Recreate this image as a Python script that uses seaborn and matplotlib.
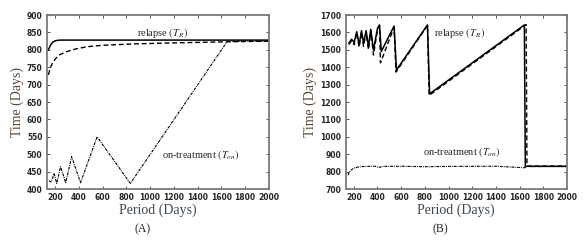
"""Relapse vs on-treatment times as a function of dosing period, panels (A) and (B)."""
import matplotlib
matplotlib.use("Agg")
import matplotlib.pyplot as plt
import seaborn as sns

# ---- panel A data ----
a_relapse_x = [145, 160, 175, 190, 205, 225, 250, 300, 400, 600, 1000, 1600, 2000]
a_relapse_y = [800, 812, 820, 824, 826, 827.5, 828, 828, 828, 828, 828, 828, 828]

a_relapse_alt_x = [145, 160, 180, 205, 240, 300, 380, 470, 600, 860, 1200, 1650, 2000]
a_relapse_alt_y = [728, 748, 763, 775, 786, 795, 803, 809, 813, 817, 820, 823, 825]

a_ontreat_x = [150, 165, 180, 192, 214, 247, 290, 340, 415, 554, 834, 1651, 2000]
a_ontreat_y = [424, 420, 432, 445, 416, 464, 418, 493, 418, 550, 416, 825, 825]

# ---- panel B data ----
b_relapse_x = [158, 181, 203, 225, 245, 265, 282, 304, 324, 343, 366, 400, 417, 432,
               540, 560, 822, 840, 1640, 1648, 2000]
b_relapse_y = [1538, 1561, 1543, 1604, 1528, 1610, 1538, 1610, 1518, 1618, 1499, 1624,
               1643, 1490, 1637, 1384, 1643, 1247, 1643, 830, 830]

b_relapse_alt_x = [158, 181, 203, 225, 245, 265, 282, 304, 324, 343, 366, 400, 417, 425,
                   540, 556, 822, 836, 1655, 1662, 2000]
b_relapse_alt_y = [1530, 1552, 1530, 1598, 1515, 1602, 1520, 1600, 1500, 1610, 1470, 1615,
                   1640, 1425, 1630, 1372, 1640, 1238, 1645, 832, 832]

b_ontreat_x = [150, 170, 200, 250, 300, 380, 410, 450, 600, 800, 1000, 1400, 1640, 1660, 2000]
b_ontreat_y = [780, 805, 820, 828, 830, 831, 824, 830, 831, 828, 830, 831, 822, 830, 830]

sns.set_style("ticks")
plt.rcParams["mathtext.fontset"] = "stix"
plt.rcParams["font.family"] = ["DejaVu Sans"]

serif = "Liberation Serif"
frame_col = "#7a7a7a"
fig = plt.figure(figsize=(5.88, 2.44), dpi=100)
ax_a = fig.add_axes([0.0794, 0.2254, 0.378, 0.713])
ax_b = fig.add_axes([0.5876, 0.2254, 0.3767, 0.713])


def draw(ax, rx, ry, dx, dy, ox, oy):
    sns.lineplot(x=rx, y=ry, ax=ax, color="black", linewidth=1.1, sort=False)
    sns.lineplot(x=dx, y=dy, ax=ax, color="black", linewidth=1.0, sort=False,
                 linestyle=(0, (3.5, 2)))
    sns.lineplot(x=ox, y=oy, ax=ax, color="black", linewidth=0.8, sort=False,
                 linestyle=(0, (2.6, 0.9, 0.8, 0.9)))


draw(ax_a, a_relapse_x, a_relapse_y, a_relapse_alt_x, a_relapse_alt_y, a_ontreat_x, a_ontreat_y)
draw(ax_b, b_relapse_x, b_relapse_y, b_relapse_alt_x, b_relapse_alt_y, b_ontreat_x, b_ontreat_y)

ax_a.set_xlim(130, 2000)
ax_a.set_ylim(400, 900)
ax_a.set_yticks(range(400, 901, 50))
ax_b.set_xlim(130, 2000)
ax_b.set_ylim(700, 1700)
ax_b.set_yticks(range(700, 1701, 100))

ax_a.text(1107, 849, r"relapse $(T_R)$", fontsize=7.5, family=serif, ha="center", va="center")
ax_a.text(1425, 498, r"on-treatment $(T_{on})$", fontsize=7.5, family=serif, ha="center", va="center")
ax_b.text(1094, 1597, r"relapse $(T_R)$", fontsize=7.5, family=serif, ha="center", va="center")
ax_b.text(1108, 914, r"on-treatment $(T_{on})$", fontsize=7.5, family=serif, ha="center", va="center")

for ax in (ax_a, ax_b):
    ax.set_xticks(range(200, 2001, 200))
    ax.tick_params(direction="in", top=True, right=True, length=2.5, width=0.7,
                   color="#555555", labelsize=5.5, pad=3)
    for lab in ax.get_xticklabels() + ax.get_yticklabels():
        lab.set_fontweight("bold")
    for sp in ax.spines.values():
        sp.set_visible(True)
        sp.set_color(frame_col)
        sp.set_linewidth(1.3)
    ax.set_xlabel("Period (Days)", fontsize=10, family=serif, color="#3d4457", labelpad=1)
    ax.set_ylabel("Time (Days)", fontsize=10, family=serif, color="#5a4634", labelpad=2)

fig.text(0.243, 0.061, "(A)", fontsize=8.5, family=serif, ha="center", va="center")
fig.text(0.748, 0.061, "(B)", fontsize=8.5, family=serif, ha="center", va="center")

fig.savefig("out.png", dpi=100)
